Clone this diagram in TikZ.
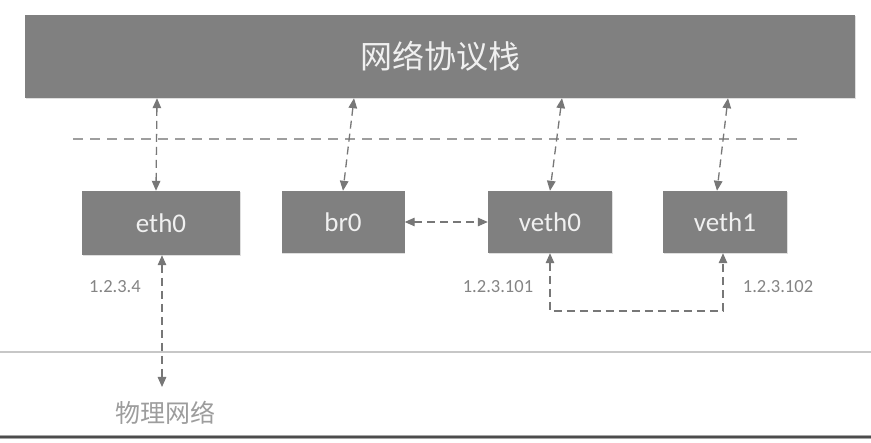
\documentclass[tikz,border=0pt]{standalone}
\usepackage{fontspec}
\setmainfont{Carlito}
\newfontfamily\cjk{Noto Sans CJK SC}
\usetikzlibrary{arrows.meta,shadows}
\definecolor{boxgray}{HTML}{808080}
\definecolor{arrgray}{HTML}{777777}
\definecolor{lblgray}{HTML}{858585}
\tikzset{
  dev/.style={fill=boxgray, draw=none, text=white!94!black, font=\fontsize{27}{29}\selectfont,
     inner sep=0pt, drop shadow={shadow xshift=0.8pt, shadow yshift=-1.5pt, opacity=0.25}},
  link/.style={draw=arrgray, line width=1.3pt, dash pattern=on 8pt off 5pt},
  biarrow/.style={link, {Triangle[length=10pt,width=8.5pt]}-{Triangle[length=10pt,width=8.5pt]}},
  ipl/.style={text=lblgray, font=\fontsize{18.5}{20}\selectfont, inner sep=0pt},
}
\begin{document}
\begin{tikzpicture}[x=1pt,y=-1pt]
\useasboundingbox (0,0) rectangle (871,443);
\fill[white] (0,0) rectangle (871,443);
% top stack
\node[dev, minimum width=830pt, minimum height=83pt, font=\cjk\fontsize{32}{34}\selectfont] (stack) at (440,56.5) {网络协议栈};
% dashed separator
\coordinate (sepL) at (73,139);
\coordinate (sepR) at (800,139);
\draw[draw=black!38, line width=1.4pt, dash pattern=on 10pt off 7pt] (sepL) -- (sepR);
% devices
\node[dev, minimum width=158pt, minimum height=64pt] (eth0) at (161,223) {eth0};
\node[dev, minimum width=123pt, minimum height=62pt] (br0) at (343,222) {br0};
\node[dev, minimum width=124pt, minimum height=62pt] (veth0) at (550,222) {veth0};
\node[dev, minimum width=124pt, minimum height=62pt] (veth1) at (725,222) {veth1};
% stack <-> devices
\draw[biarrow] (157,0 |- stack.south) -- (156,0 |- eth0.north);
\draw[biarrow] (354,0 |- stack.south) -- (343,0 |- br0.north);
\draw[biarrow] (562,0 |- stack.south) -- (550,0 |- veth0.north);
\draw[biarrow] (728,0 |- stack.south) -- (717,0 |- veth1.north);
% br0 <-> veth0
\draw[biarrow] (br0.east) -- (veth0.west);
% eth0 <-> physical network
\node[text=lblgray!80, font=\cjk\fontsize{25}{27}\selectfont, inner sep=0pt] (phys) at (165,413) {物理网络};
\coordinate (physT) at (162,387);
\draw[biarrow] (162,0 |- eth0.south) -- (physT);
% veth pair
\coordinate (vp0) at (550,311);
\coordinate (vp1) at (723,311);
\draw[biarrow] (550,0 |- veth0.south) -- (vp0) -- (vp1) -- (723,0 |- veth1.south);
% labels
\node[ipl] (ip1) at (115,287) {1.2.3.4};
\node[ipl] (ip2) at (498,287) {1.2.3.101};
\node[ipl] (ip3) at (778,287) {1.2.3.102};
% horizontal rules
\coordinate (r1L) at (0,352);
\coordinate (r1R) at (871,352);
\draw[draw=black!22, line width=1.5pt] (r1L) -- (r1R);
\coordinate (r2L) at (0,437);
\coordinate (r2R) at (871,437);
\draw[draw=black!35, line width=3.5pt] (r2L) -- (r2R);
\draw[draw=black!70, line width=1.6pt] (r2L) -- (r2R);
\end{tikzpicture}
\end{document}
